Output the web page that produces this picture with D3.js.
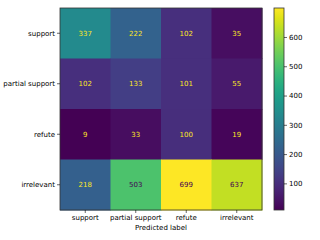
<!DOCTYPE html>
<html><head><meta charset="utf-8">
<script src="https://cdn.jsdelivr.net/npm/d3@7"></script>
<style>body{margin:0;background:#fff}svg{display:block}text{font-family:"DejaVu Sans",sans-serif}</style>
</head><body><svg id="c" width="320" height="240"></svg>
<script>
const trueLabels = ["support","partial support","refute","irrelevant"];
const predLabels = ["support","partial support","refute","irrelevant"];
const rowSupport = [337,222,102,35];
const rowPartial = [102,133,101,55];
const rowRefute = [9,33,100,19];
const rowIrrelevant = [218,503,699,637];
const colorbarTicks = [100,200,300,400,500,600];

const matrix = [rowSupport,rowPartial,rowRefute,rowIrrelevant];
const cells = [];
matrix.forEach((row,i)=>row.forEach((v,j)=>cells.push({t:trueLabels[i],p:predLabels[j],v})));
const vmin = d3.min(cells,d=>d.v), vmax = d3.max(cells,d=>d.v);
const svg = d3.select("#c");
const L=60,T=8,W=202,H=202;
const x = d3.scaleBand().domain(predLabels).range([L,L+W]);
const y = d3.scaleBand().domain(trueLabels).range([T,T+H]);
const color = d3.scaleSequential(d3.interpolateViridis).domain([vmin,vmax]);
svg.selectAll("rect.cell").data(cells).enter().append("rect")
 .attr("x",d=>x(d.p)).attr("y",d=>y(d.t)).attr("width",x.bandwidth()+0.5).attr("height",y.bandwidth()+0.5)
 .attr("fill",d=>color(d.v));
const thr=(vmin+vmax)/2;
svg.selectAll("text.val").data(cells).enter().append("text")
 .attr("x",d=>x(d.p)+x.bandwidth()/2).attr("y",d=>y(d.t)+y.bandwidth()/2)
 .attr("text-anchor","middle").attr("dy","0.35em").attr("font-size",7)
 .attr("fill",d=>d.v<thr?color(vmax):color(vmin)).text(d=>d.v);
svg.append("rect").attr("x",L).attr("y",T).attr("width",W).attr("height",H).attr("fill","none").attr("stroke","#333").attr("stroke-width",0.8);
const ax = svg.append("g").attr("transform",`translate(0,${T+H})`).call(d3.axisBottom(x).tickSize(3).tickPadding(2));
const ay = svg.append("g").attr("transform",`translate(${L},0)`).call(d3.axisLeft(y).tickSize(3).tickPadding(2));
[ax,ay].forEach(a=>{a.select(".domain").remove();a.selectAll("text").attr("font-size",7).attr("fill","#000").attr("font-family","DejaVu Sans");a.selectAll("line").attr("stroke","#000").attr("stroke-width",0.6);});
svg.append("text").attr("x",L+W/2).attr("y",230).attr("text-anchor","middle").attr("font-size",7).text("Predicted label");
// colorbar
const cbX=274,cbW=10;
const cy = d3.scaleLinear().domain([vmin,vmax]).range([T+H,T]);
const defs=svg.append("defs");
const g=defs.append("linearGradient").attr("id","cb").attr("x1",0).attr("y1",1).attr("x2",0).attr("y2",0);
d3.range(0,1.0001,0.05).forEach(s=>g.append("stop").attr("offset",s).attr("stop-color",d3.interpolateViridis(s)));
svg.append("rect").attr("x",cbX).attr("y",T).attr("width",cbW).attr("height",H).attr("fill","url(#cb)").attr("stroke","#333").attr("stroke-width",0.8);
const ac=svg.append("g").attr("transform",`translate(${cbX+cbW},0)`).call(d3.axisRight(cy).tickValues(colorbarTicks).tickSize(3).tickPadding(2));
ac.select(".domain").remove();
ac.selectAll("text").attr("font-size",7).attr("fill","#000").attr("font-family","DejaVu Sans");
ac.selectAll("line").attr("stroke","#000").attr("stroke-width",0.6);
</script></body></html>
